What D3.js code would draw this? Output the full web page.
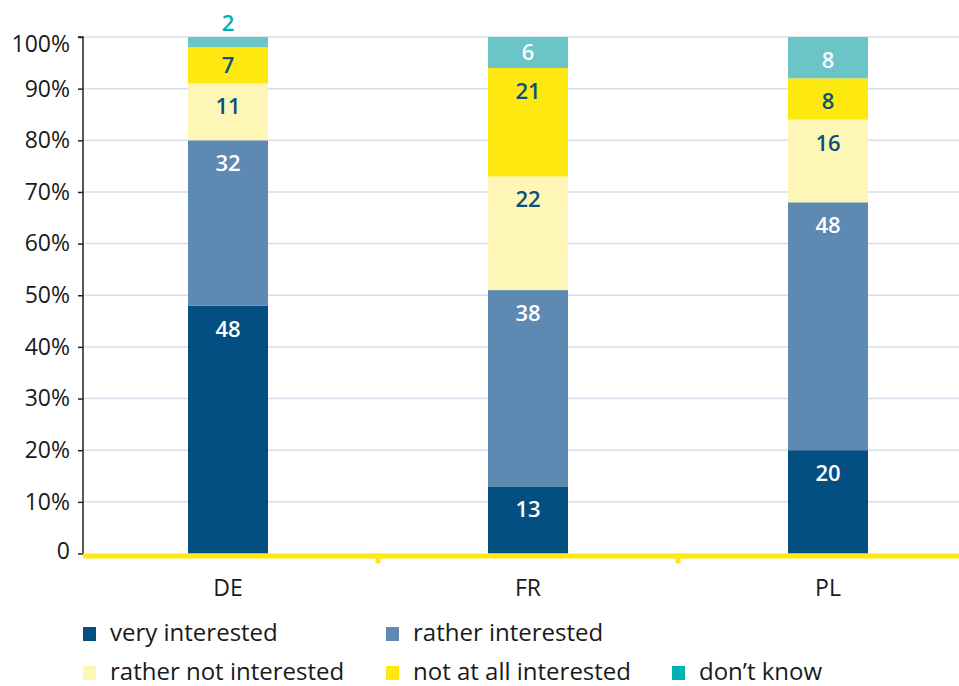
<!DOCTYPE html>
<html>
<head>
<meta charset="utf-8">
<script src="https://cdn.jsdelivr.net/npm/d3@7"></script>
<style>
  html, body { margin: 0; padding: 0; background: #fff; }
  svg { display: block; font-family: "Open Sans", "Noto Sans", sans-serif; }
</style>
</head>
<body>
<svg id="chart" width="959" height="686"></svg>
<script>
// Survey answers per country, percent of respondents
const countries = ["DE", "FR", "PL"];
const answers = ["very interested", "rather interested", "rather not interested", "not at all interested", "don\u2019t know"];
const veryInterested = [48, 13, 20];
const ratherInterested = [32, 38, 48];
const ratherNot = [11, 22, 16];
const notAtAll = [7, 21, 8];
const dontKnow = [2, 6, 8];
const yTicks = [0, 10, 20, 30, 40, 50, 60, 70, 80, 90, 100];

const fills = ["#034f82", "#5d89b2", "#fdf6b6", "#fde90f", "#6bc4c5"];
const legendFills = ["#034f82", "#5d89b2", "#fdf6b6", "#fde90f", "#00b1b1"];
const labelColors = ["#ffffff", "#ffffff", "#0b4f7e", "#0b4f7e", "#ffffff"];

const rows = countries.map((c, i) => ({
  country: c,
  "very interested": veryInterested[i],
  "rather interested": ratherInterested[i],
  "rather not interested": ratherNot[i],
  "not at all interested": notAtAll[i],
  "don\u2019t know": dontKnow[i]
}));

const svg = d3.select("#chart");
const plotLeft = 83, plotRight = 959, plotTop = 37, plotBottom = 553.5;

const x = d3.scaleBand().domain(countries).range([78, 978]).paddingInner(0).paddingOuter(0);
const barW = 80;
const y = d3.scaleLinear().domain([0, 100]).range([plotBottom, plotTop]);

// Gridlines
svg.append("g").selectAll("line").data(yTicks.filter(t => t > 0)).join("line")
  .attr("x1", plotLeft).attr("x2", plotRight)
  .attr("y1", d => y(d)).attr("y2", d => y(d))
  .attr("stroke", "#d5deea").attr("stroke-width", 1.5);

// Y axis
const yAxis = d3.axisLeft(y).tickValues(yTicks)
  .tickFormat(d => d === 0 ? "0" : d + "%").tickSize(5).tickPadding(8);
const yg = svg.append("g").attr("transform", `translate(${plotLeft},0)`).call(yAxis);
yg.select(".domain").attr("stroke", "#222").attr("stroke-width", 1.5).attr("d", `M-5,${plotTop}H0V${plotBottom}`);
yg.selectAll(".tick line").attr("stroke", "#222").attr("stroke-width", 1.5);
yg.selectAll(".tick text").attr("font-size", 23).attr("fill", "#1a1a1a")
  .attr("font-family", "'Open Sans', 'Noto Sans', sans-serif")
  .attr("dy", d => d === 100 ? "0.62em" : (d === 0 ? "0.2em" : "0.32em"));

// Stacked bars
const series = d3.stack().keys(answers)(rows);
const groups = svg.append("g").selectAll("g").data(series).join("g")
  .attr("fill", (d, i) => fills[i]);
groups.selectAll("rect").data(d => d).join("rect")
  .attr("x", d => x(d.data.country) + x.bandwidth() / 2 - barW / 2)
  .attr("width", barW)
  .attr("y", d => y(d[1]))
  .attr("height", d => y(d[0]) - y(d[1]));

// Value labels
series.forEach((s, si) => {
  s.forEach(d => {
    const v = d[1] - d[0];
    const h = y(d[0]) - y(d[1]);
    const cx = x(d.data.country) + x.bandwidth() / 2;
    let ty, col = labelColors[si];
    if (h < 18) { ty = y(d[1]) - 6; col = "#00b1b1"; }
    else if (h < 40) { ty = (y(d[0]) + y(d[1])) / 2 + 8; }
    else { ty = y(d[1]) + 31; }
    svg.append("text").attr("x", cx).attr("y", ty)
      .attr("text-anchor", "middle").attr("font-size", 22).attr("font-weight", 600)
      .attr("fill", col).text(v);
  });
});

// X axis baseline with category separators
svg.append("line").attr("x1", plotLeft).attr("x2", plotRight).attr("y1", plotBottom + 2.5).attr("y2", plotBottom + 2.5)
  .attr("stroke", "#fde90f").attr("stroke-width", 5);
countries.slice(1).forEach(c => {
  const bx = x(c);
  svg.append("line").attr("x1", bx).attr("x2", bx).attr("y1", plotBottom).attr("y2", plotBottom + 10)
    .attr("stroke", "#fde90f").attr("stroke-width", 5);
});
svg.append("g").selectAll("text").data(countries).join("text")
  .attr("x", d => x(d) + x.bandwidth() / 2).attr("y", 596)
  .attr("text-anchor", "middle").attr("font-size", 23).attr("fill", "#1a1a1a")
  .text(d => d);

// Legend
const legendPos = [[83, 633], [386, 633], [83, 672], [386, 672], [672, 672]];
answers.forEach((a, i) => {
  const [lx, ly] = legendPos[i];
  svg.append("rect").attr("x", lx).attr("y", ly - 6).attr("width", 13).attr("height", 14).attr("fill", legendFills[i]);
  svg.append("text").attr("x", lx + 27).attr("y", ly + 8).attr("font-size", 24).attr("fill", "#1a1a1a").text(a);
});
</script>
</body>
</html>
